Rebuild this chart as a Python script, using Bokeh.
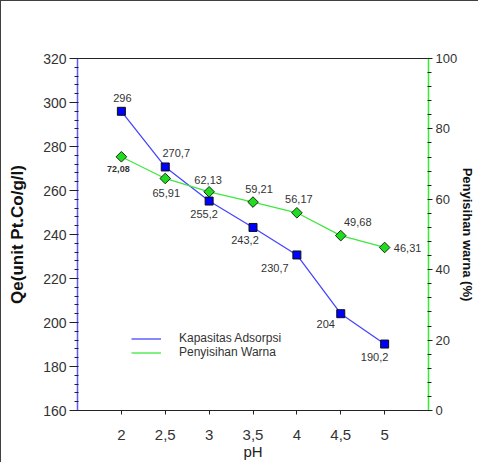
import math
from bokeh.plotting import figure
from bokeh.layouts import column
from bokeh.models import (Range1d, LinearAxis, FixedTicker, Legend, LegendItem,
                          ColumnDataSource)
from bokeh.core.properties import value
from bokeh.embed import file_html
from bokeh.resources import INLINE

# ---- data ----
ph = [2, 2.5, 3, 3.5, 4, 4.5, 5]
qe = [296, 270.7, 255.2, 243.2, 230.7, 204, 190.2]
removal = [72.08, 65.91, 62.13, 59.21, 56.17, 49.68, 46.31]
x_ticks = [2, 2.5, 3, 3.5, 4, 4.5, 5]
x_tick_labels = ["2", "2,5", "3", "3,5", "4", "4,5", "5"]
left_ticks = [160, 180, 200, 220, 240, 260, 280, 300, 320]
right_ticks = [0, 20, 40, 60, 80, 100]
series_names = ["Kapasitas Adsorpsi", "Penyisihan Warna"]

# label offsets (screen px) - styling only
qe_dx = [1, 11, -5, -8, -22, -15, -10]
qe_dy = [-13, -14, 13, 13, 13, 10, 13]
rm_dx = [-3, 1, -1, 6, 2, 17, 23]
rm_dy = [12, 15, -12, -13, -14, -14, 1]

FONT = "Liberation Sans"
BLUE_LINE = "#4646ff"
GREEN_LINE = "#3ee83e"

def fmt(v):
    return ("%g" % v).replace(".", ",")

p = figure(frame_width=351, frame_height=352,
           x_range=Range1d(1.5, 5.5), y_range=Range1d(160, 320),
           output_backend="svg", toolbar_location=None,
           min_border_left=0, min_border_right=0, min_border_top=55, min_border_bottom=0)
p.outline_line_color = None
p.grid.visible = False
p.background_fill_color = "white"
p.border_fill_color = "white"
p.extra_y_ranges = {"pct": Range1d(0, 100)}

# bottom axis
xa = p.xaxis[0]
xa.ticker = FixedTicker(ticks=x_ticks, minor_ticks=[])
xa.major_label_overrides = {t: l for t, l in zip(x_ticks, x_tick_labels)}
xa.axis_label = "pH"
xa.axis_label_text_font = FONT
xa.axis_label_text_font_style = "normal"
xa.axis_label_text_font_size = "15px"
xa.axis_label_text_color = "#222222"
xa.axis_label_standoff = 0
xa.major_label_text_font = FONT
xa.major_label_text_font_size = "15px"
xa.major_label_text_color = "#333333"
xa.major_label_standoff = 15
xa.major_tick_out = 4
xa.major_tick_in = 0
xa.minor_tick_out = 0
xa.minor_tick_in = 0
xa.axis_line_color = "#222222"
xa.major_tick_line_color = "#222222"

# left axis
ya = p.yaxis[0]
ya.ticker = FixedTicker(ticks=left_ticks, minor_ticks=list(range(160, 321, 4)))
ya.axis_label = "Qe(unit Pt.Co/g/l)"
ya.axis_label_text_font = FONT
ya.axis_label_text_font_style = "bold"
ya.axis_label_text_font_size = "17px"
ya.axis_label_text_color = "#111111"
ya.axis_label_standoff = 13
ya.major_label_text_font = FONT
ya.major_label_text_font_size = "14px"
ya.major_label_text_color = "#333333"
ya.major_label_standoff = 3
ya.axis_line_color = "#5a5aff"
ya.axis_line_width = 1.5
ya.major_tick_out = 8
ya.major_tick_in = 0
ya.minor_tick_out = 3
ya.minor_tick_in = 1
ya.major_tick_line_color = "#222222"
ya.minor_tick_line_color = "#222222"

# right axis
ra = LinearAxis(y_range_name="pct",
                ticker=FixedTicker(ticks=right_ticks, minor_ticks=list(range(0, 101, 4))))
ra.axis_label = "Penyisihan warna (%)"
ra.axis_label_text_font = FONT
ra.axis_label_text_font_style = "bold"
ra.axis_label_text_font_size = "13px"
ra.axis_label_text_color = "#111111"
ra.axis_label_standoff = 0
ra.major_label_text_font = FONT
ra.major_label_text_font_size = "13px"
ra.major_label_text_color = "#333333"
ra.major_label_standoff = 3
ra.axis_line_color = "#33ee33"
ra.axis_line_width = 1.5
ra.major_tick_out = 4
ra.major_tick_in = 0
ra.minor_tick_out = 3
ra.minor_tick_in = 1
ra.major_tick_line_color = "#222222"
ra.minor_tick_line_color = "#222222"
p.add_layout(ra, "right")

# top border line
ta = LinearAxis(ticker=FixedTicker(ticks=[], minor_ticks=[]))
ta.major_label_text_font_size = "0px"
ta.major_tick_out = 0
ta.minor_tick_out = 0
ta.axis_line_color = "#222222"
p.add_layout(ta, "above")

# series
l1 = p.line(ph, qe, line_color=BLUE_LINE, line_width=1.3)
p.scatter(ph, qe, marker="square", size=8, fill_color="#0000ff", line_color="#111111",
          line_width=1)
l2 = p.line(ph, removal, line_color=GREEN_LINE, line_width=1.3, y_range_name="pct")
p.scatter(ph, removal, marker="square", angle=math.pi / 4, size=7.5, fill_color="#1fdc1f",
          line_color="#1a2a1a", line_width=1, y_range_name="pct")

# data labels
src_q = ColumnDataSource(dict(x=ph, y=qe, t=[fmt(v) for v in qe], dx=qe_dx, dy=qe_dy))
p.text(x="x", y="y", text="t", x_offset="dx", y_offset="dy", source=src_q,
       text_font=value(FONT), text_font_size="11px", text_color="#333333",
       text_align="center", text_baseline="middle")
src_r = ColumnDataSource(dict(x=ph[1:], y=removal[1:], t=[fmt(v) for v in removal[1:]],
                              dx=rm_dx[1:], dy=rm_dy[1:]))
p.text(x="x", y="y", text="t", x_offset="dx", y_offset="dy", source=src_r,
       text_font=value(FONT), text_font_size="11px", text_color="#333333",
       text_align="center", text_baseline="middle", y_range_name="pct")
src_r0 = ColumnDataSource(dict(x=ph[:1], y=removal[:1], t=[fmt(v) for v in removal[:1]],
                               dx=rm_dx[:1], dy=rm_dy[:1]))
p.text(x="x", y="y", text="t", x_offset="dx", y_offset="dy", source=src_r0,
       text_font=value(FONT), text_font_size="9px", text_font_style="bold",
       text_color="#333333", text_align="center", text_baseline="middle",
       y_range_name="pct")

# legend
legend = Legend(items=[LegendItem(label=series_names[0], renderers=[l1]),
                       LegendItem(label=series_names[1], renderers=[l2])],
                location=(54, 51))
legend.border_line_color = None
legend.background_fill_alpha = 0
legend.label_text_font = FONT
legend.label_text_font_size = "12px"
legend.label_text_color = "#333333"
legend.glyph_width = 30
legend.glyph_height = 13
legend.label_height = 13
legend.label_standoff = 18
legend.spacing = 0
legend.padding = 0
legend.margin = 0
p.add_layout(legend)

layout = column(p, styles={"border-left": "1px solid #404040",
                           "border-top": "1px solid #404040",
                           "padding-top": "2px", "padding-left": "4px"})

open("out.html", "w").write(file_html(layout, INLINE))
